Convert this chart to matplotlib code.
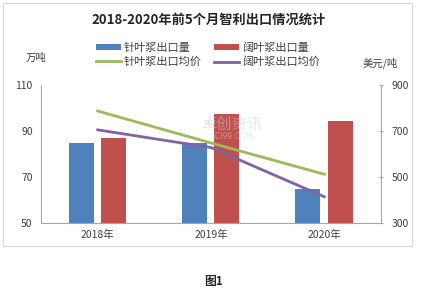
import matplotlib
matplotlib.use("Agg")
import matplotlib.pyplot as plt
import numpy as np
from matplotlib.patches import Rectangle

plt.rcParams['font.family'] = ['Noto Sans CJK SC', 'DejaVu Sans']

categories = ["2018年", "2019年", "2020年"]
softwood_vol = [85, 85, 65]      # 针叶浆出口量 (万吨)
hardwood_vol = [87, 97.5, 94.5]  # 阔叶浆出口量 (万吨)
softwood_price = [787, 648, 512] # 针叶浆出口均价 (美元/吨)
hardwood_price = [705, 628, 414] # 阔叶浆出口均价 (美元/吨)
left_ticks = [50, 70, 90, 110]
right_ticks = [300, 500, 700, 900]

W, H = 427, 294
fig = plt.figure(figsize=(W/100, H/100), dpi=100)
fig.patch.set_facecolor("white")

# outer chart border
fig.add_artist(Rectangle((3/W, 1-246/H), 409/W, 243/H, transform=fig.transFigure,
                         fill=False, edgecolor="#d9d9d9", linewidth=0.8))

ax = fig.add_axes([41/W, 1-223/H, 340/W, 138/H])
x = np.arange(len(categories))
bw = 0.22
b1 = ax.bar(x - 0.145, softwood_vol, bw, color="#4F81BD", label="针叶浆出口量", zorder=2)
b2 = ax.bar(x + 0.14, hardwood_vol, bw, color="#C0504D", label="阔叶浆出口量", zorder=2)
ax.set_ylim(50, 110)
ax.set_xlim(-0.5, 2.5)
ax.set_yticks(left_ticks)
ax.set_xticks(x)
ax.set_xticklabels(categories)
ax.tick_params(axis="y", length=0, labelsize=7.5, colors="#404040", pad=6)
ax.tick_params(axis="x", length=0, labelsize=7.5, colors="#404040", pad=5)
for s in ["top", "right"]:
    ax.spines[s].set_visible(False)
for s in ["left", "bottom"]:
    ax.spines[s].set_color("#a6a6a6")
    ax.spines[s].set_linewidth(0.8)

ax2 = ax.twinx()
l1, = ax2.plot(x, softwood_price, color="#9BBB59", linewidth=2, label="针叶浆出口均价", zorder=3)
l2, = ax2.plot(x, hardwood_price, color="#8064A2", linewidth=2, label="阔叶浆出口均价", zorder=3)
ax2.set_ylim(300, 900)
ax2.set_yticks(right_ticks)
ax2.tick_params(axis="y", length=3, direction="inout", labelsize=7.5, colors="#404040", pad=6)
ax2.tick_params(axis="y", color="#a6a6a6")
for s in ["top", "left", "bottom"]:
    ax2.spines[s].set_visible(False)
ax2.spines["right"].set_color("#a6a6a6")
ax2.spines["right"].set_linewidth(0.8)

# watermark
fig.text(232/W, 1-124/H, "卓创资讯", fontsize=11, color="#d0d0d0", alpha=0.5,
         ha="center", va="center", zorder=0)
fig.text(232/W, 1-136/H, "SCI99.COM", fontsize=6, color="#d0d0d0", alpha=0.5,
         ha="center", va="center", zorder=0)

fig.text(209/W, 1-20/H, "2018-2020年前5个月智利出口情况统计", fontsize=9.5,
         fontweight="bold", ha="center", va="center", color="#262626")

fig.legend(handles=[b1, l1, b2, l2], loc="center", bbox_to_anchor=(208/W, 1-55/H),
           ncol=2, frameon=False, fontsize=8, handlelength=2.2, handleheight=0.5,
           handletextpad=0.3, columnspacing=1.1, labelspacing=0.3, labelcolor="#404040")

fig.text(36/W, 1-58/H, "万吨", fontsize=7.5, ha="center", va="center", color="#404040")
fig.text(380/W, 1-63/H, "美元/吨", fontsize=7.5, ha="center", va="center", color="#404040")
fig.text(214/W, 1-282/H, "图1", fontsize=8.5, ha="center", va="center", color="#262626",
         fontweight="bold")

fig.savefig("out.png", dpi=100, facecolor="white")
